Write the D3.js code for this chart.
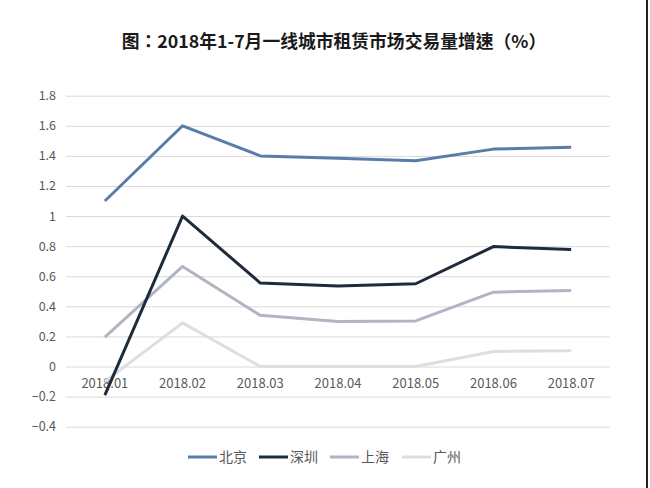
<!DOCTYPE html>
<html>
<head>
<meta charset="utf-8">
<script src="https://cdn.jsdelivr.net/npm/d3@7"></script>
<style>
  body { margin: 0; background: #fff; }
  svg { display: block; }
</style>
</head>
<body>
<div id="chart"></div>
<script>
// Width and height for the SVG element
const w = 650;
const h = 488;

// Data
const months = ["2018.01", "2018.02", "2018.03", "2018.04", "2018.05", "2018.06", "2018.07"];
const cities = ["北京", "深圳", "上海", "广州"];
const beijing = [1.1, 1.6, 1.4, 1.385, 1.367, 1.445, 1.458];
const shenzhen = [-0.19, 1.0, 0.555, 0.535, 0.55, 0.797, 0.778];
const shanghai = [0.195, 0.665, 0.34, 0.3, 0.303, 0.494, 0.506];
const guangzhou = [-0.1, 0.29, 0, 0, 0, 0.1, 0.104];
const yTicks = [-0.4, -0.2, 0, 0.2, 0.4, 0.6, 0.8, 1, 1.2, 1.4, 1.6, 1.8];
const colors = ["#587ea7", "#1e2b3b", "#afb6c2", "#dbdee2"];

const series = [beijing, shenzhen, shanghai, guangzhou];
const font = "'Noto Sans CJK SC', 'Noto Sans', sans-serif";

const svg = d3.select("#chart")
    .append("svg")
    .attr("width", w)
    .attr("height", h);

svg.append("rect").attr("width", w).attr("height", h).attr("fill", "#fff");

// Title (TC face keeps the full-width colon centred like the original)
svg.append("text")
    .text("图：2018年1-7月一线城市租赁市场交易量增速（%）")
    .attr("x", 334)
    .attr("y", 48)
    .attr("text-anchor", "middle")
    .attr("font-family", "'Noto Sans CJK TC', 'Noto Sans CJK SC', sans-serif")
    .attr("font-weight", "bold")
    .attr("font-size", "17.8px")
    .attr("fill", "#1a1a1a");

// Scales
const xScale = d3.scaleBand()
    .domain(months)
    .range([66, 610]);

const yScale = d3.scaleLinear()
    .domain([-0.4, 1.8])
    .range([426.7, 95.7]);

const cx = d => xScale(d) + xScale.bandwidth() / 2;

// Gridlines and y labels
const yAxis = d3.axisLeft(yScale)
    .tickValues(yTicks)
    .tickSize(-(610 - 66))
    .tickPadding(10)
    .tickFormat(d => d3.format("~g")(d));

const gy = svg.append("g")
    .attr("transform", "translate(66,0)")
    .call(yAxis);
gy.select(".domain").remove();
gy.selectAll("line").attr("stroke", "#d9d9d9");
gy.selectAll("text")
    .attr("font-family", font)
    .attr("font-size", "12.5px")
    .attr("fill", "#595959");

// X labels (sit just under the zero line)
const xAxis = d3.axisBottom(xScale).tickSize(0).tickPadding(12);
const gx = svg.append("g")
    .attr("transform", `translate(0,${yScale(0)})`)
    .call(xAxis);
gx.select(".domain").remove();
gx.selectAll("text")
    .attr("font-family", font)
    .attr("font-size", "13px")
    .attr("fill", "#595959");

// Lines, drawn back to front
const line = d3.line()
    .x((d, i) => cx(months[i]))
    .y(d => yScale(d));

[3, 2, 1, 0].forEach(k => {
    svg.append("path")
        .datum(series[k])
        .attr("d", line)
        .attr("fill", "none")
        .attr("stroke", colors[k])
        .attr("stroke-width", 3)
        .attr("stroke-linejoin", "round");
});

// Legend
const legendX = [188, 259, 330, 402];
const lg = svg.selectAll("g.legend")
    .data(cities)
    .enter()
    .append("g")
    .attr("class", "legend")
    .attr("transform", (d, i) => `translate(${legendX[i]},457)`);

lg.append("line")
    .attr("x1", 0).attr("x2", 29)
    .attr("stroke", (d, i) => colors[i])
    .attr("stroke-width", 3);

lg.append("text")
    .text(d => d)
    .attr("x", 31)
    .attr("y", 5)
    .attr("font-family", font)
    .attr("font-size", "14px")
    .attr("fill", "#595959");

// Dark frame edge at the right
svg.append("line")
    .attr("x1", 647).attr("x2", 647)
    .attr("y1", 0).attr("y2", h)
    .attr("stroke", "#222")
    .attr("stroke-width", 2);
</script>
</body>
</html>
